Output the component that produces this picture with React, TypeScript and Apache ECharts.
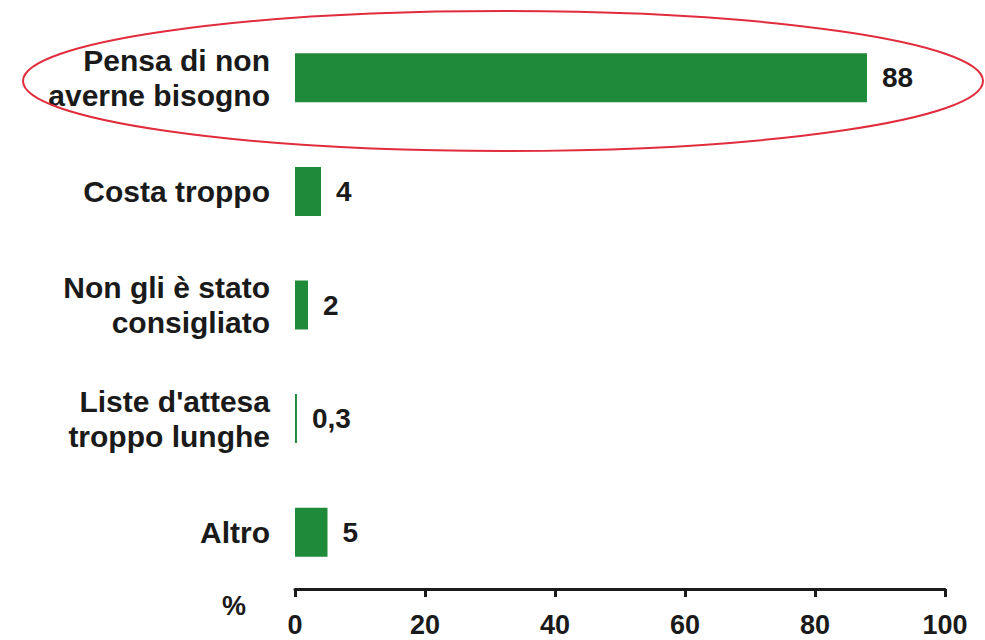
import React, { useEffect, useRef } from "react";
import * as echarts from "echarts";

const categories = [
  "Pensa di non\naverne bisogno",
  "Costa troppo",
  "Non gli è stato\nconsigliato",
  "Liste d'attesa\ntroppo lunghe",
  "Altro",
];
const values = [88, 4, 2, 0.3, 5];
const axisTicks = [0, 20, 40, 60, 80, 100];
const unitLabel = "%";

export default function App() {
  const ref = useRef<HTMLDivElement>(null);
  useEffect(() => {
    if (!ref.current) return;
    const chart = echarts.init(ref.current, null, { renderer: "svg" });
    const font = "'Liberation Sans', Arial, sans-serif";
    chart.setOption({
      animation: false,
      backgroundColor: "#ffffff",
      grid: { left: 295, right: 40, top: 21, bottom: 51, containLabel: false },
      xAxis: {
        type: "value",
        min: axisTicks[0],
        max: axisTicks[axisTicks.length - 1],
        interval: 20,
        splitLine: { show: false },
        axisLine: { show: true, lineStyle: { color: "#1a1a1a", width: 3 } },
        axisTick: { show: true, length: 8, lineStyle: { color: "#1a1a1a", width: 3 } },
        axisLabel: {
          margin: 22,
          color: "#1a1a1a",
          fontFamily: font,
          fontWeight: "bold",
          fontSize: 27,
        },
      },
      yAxis: {
        type: "category",
        data: categories,
        inverse: true,
        axisLine: { show: false },
        axisTick: { show: false },
        axisLabel: {
          margin: 25,
          color: "#1a1a1a",
          fontFamily: font,
          fontWeight: "bold",
          fontSize: 30,
          lineHeight: 35,
          align: "right",
        },
      },
      series: [
        {
          type: "bar",
          data: values,
          barWidth: 49,
          itemStyle: { color: "#1f8a3a" },
          label: {
            show: true,
            position: "right",
            distance: 15,
            color: "#1a1a1a",
            fontFamily: font,
            fontWeight: "bold",
            fontSize: 28,
            formatter: (p: any) => String(p.value).replace(".", ","),
          },
        },
      ],
      graphic: [
        {
          type: "text",
          left: 222,
          top: 592,
          style: {
            text: unitLabel,
            fill: "#1a1a1a",
            font: `bold 27px ${font}`,
          },
        },
        {
          type: "ellipse",
          shape: { cx: 503, cy: 81, rx: 480, ry: 70 },
          style: { fill: "none", stroke: "#e02c3c", lineWidth: 2 },
          z: 100,
        },
      ],
    });
    return () => chart.dispose();
  }, []);
  return (
    <div
      ref={ref}
      style={{ position: "fixed", left: 0, top: 0, width: 985, height: 640, background: "#fff" }}
    />
  );
}
